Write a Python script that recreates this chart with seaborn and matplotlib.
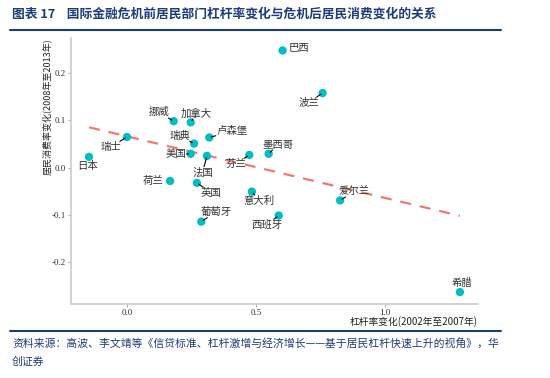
import numpy as np
import pandas as pd
import seaborn as sns
import matplotlib.pyplot as plt

# data
countries = ["日本", "瑞士", "挪威", "加拿大", "瑞典", "美国", "荷兰", "法国", "英国", "卢森堡",
             "芬兰", "墨西哥", "巴西", "波兰", "意大利", "葡萄牙", "西班牙", "爱尔兰", "希腊"]
leverage_chg = [-0.147, 0.0, 0.181, 0.247, 0.26, 0.247, 0.167, 0.31, 0.271, 0.319,
                0.474, 0.549, 0.603, 0.758, 0.484, 0.288, 0.588, 0.826, 1.29]
consumption_chg = [0.023, 0.065, 0.0985, 0.096, 0.051, 0.0295, -0.028, 0.025, -0.032, 0.064,
                   0.027, 0.0295, 0.248, 0.158, -0.0506, -0.114, -0.101, -0.069, -0.263]
# label positions (ggrepel style)
label_x = [-0.152, -0.062, 0.125, 0.27, 0.205, 0.189, 0.102, 0.293, 0.326, 0.406,
           0.422, 0.586, 0.667, 0.704, 0.513, 0.344, 0.541, 0.881, 1.297]
label_y = [0.0036, 0.044, 0.117, 0.115, 0.068, 0.028, -0.028, -0.0097, -0.053, 0.077,
           0.0078, 0.049, 0.253, 0.138, -0.0696, -0.094, -0.121, -0.05, -0.244]
no_line = ["日本", "荷兰", "巴西", "希腊"]

df = pd.DataFrame({"country": countries, "x": leverage_chg, "y": consumption_chg})

sns.set_style("white")
plt.rcParams['font.family'] = ['Noto Sans CJK SC', 'DejaVu Sans']

fig = plt.figure(figsize=(5.5, 3.78), dpi=100)
ax = fig.add_axes([0.129, 0.196, 0.74, 0.703])

sns.regplot(data=df, x="x", y="y", scatter=False, ci=None, ax=ax,
            line_kws=dict(color="#F07A72", lw=1.6, dashes=(5, 4)))
sns.scatterplot(data=df, x="x", y="y", ax=ax, color="#00BFC4", s=36,
                edgecolor="none", zorder=3)

# labels with short leader lines, clipped at the text box
for c, px, py, lx, ly in zip(countries, leverage_chg, consumption_chg, label_x, label_y):
    arrow = None if c in no_line else dict(arrowstyle="-", color="black", lw=0.8,
                                            shrinkA=0, shrinkB=1.5)
    ax.annotate(c, xy=(px, py), xytext=(lx, ly), ha="center", va="center",
                fontsize=7.5, color="#333333", arrowprops=arrow, zorder=4,
                bbox=dict(boxstyle="square,pad=0.05", fc="none", ec="none"))

ax.set_xlim(-0.217, 1.36)
ax.set_ylim(-0.288, 0.274)
ax.set_xticks([0.0, 0.5, 1.0])
ax.set_yticks([-0.2, -0.1, 0.0, 0.1, 0.2])
ax.set_xticklabels(["0.0", "0.5", "1.0"], family="Liberation Serif", fontsize=6.5, color="#333333")
ax.set_yticklabels(["-0.2", "-0.1", "0.0", "0.1", "0.2"], family="Liberation Serif",
                   fontsize=6.5, color="#333333")
ax.tick_params(axis="both", length=2.5, width=0.6, color="#999999", pad=1, left=True, bottom=True)

for side in ["top", "right"]:
    ax.spines[side].set_visible(False)
for side in ["left", "bottom"]:
    ax.spines[side].set_color("#cccccc")
    ax.spines[side].set_linewidth(1.2)

ax.set_xlabel("杠杆率变化(2002年至2007年)", fontsize=7, color="#222222")
ax.xaxis.set_label_coords(1.0, -0.045)
ax.xaxis.label.set_ha("right")
ax.set_ylabel("居民消费率变化(2008年至2013年)", fontsize=6.5, color="#222222")
ax.yaxis.set_label_coords(-0.058, 1.0)
ax.yaxis.label.set_va("center")
ax.yaxis.label.set_ha("right")

# header and footer
blue = "#1F3C7A"
fig.text(0.022, 0.962, "图表 17    国际金融危机前居民部门杠杆率变化与危机后居民消费变化的关系",
         fontsize=9.2, fontweight="bold", color=blue, va="center")
fig.add_artist(plt.Line2D([0.018, 0.91], [0.921, 0.921], color=blue, lw=1.5))
fig.add_artist(plt.Line2D([0.018, 0.91], [0.124, 0.124], color=blue, lw=1.5))
fig.text(0.022, 0.092, "资料来源：高波、李文靖等《信贷标准、杠杆激增与经济增长——基于居民杠杆快速上升的视角》，华",
         fontsize=7.8, style="italic", color=blue, va="center")
fig.text(0.022, 0.042, "创证券", fontsize=7.8, style="italic", color=blue, va="center")

fig.savefig("out.png", dpi=100)
